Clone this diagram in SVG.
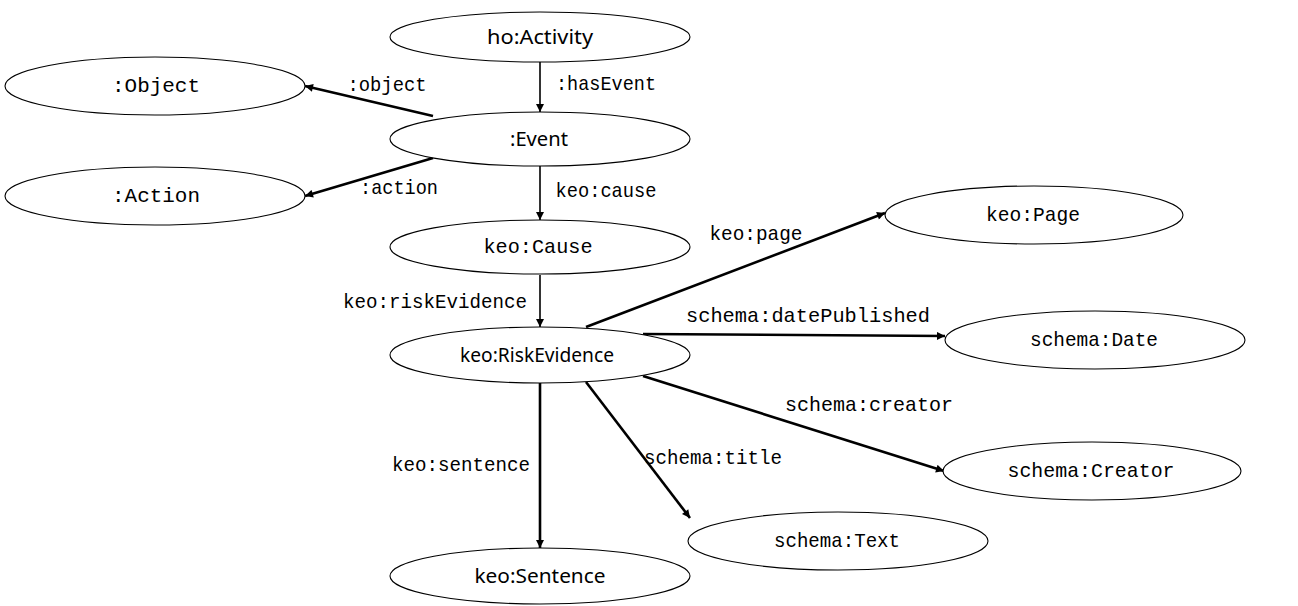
<svg xmlns="http://www.w3.org/2000/svg" width="1298" height="606" viewBox="0 0 1298 606">
<style>
.n ellipse{fill:#fff;stroke:#000;stroke-width:1.1}
.s{font-family:"Noto Sans","Open Sans",sans-serif;font-size:19px;fill:#000;text-anchor:middle;dominant-baseline:central}
.m{font-family:"Liberation Mono","DejaVu Sans Mono",monospace;font-size:21px;fill:#000;text-anchor:middle;dominant-baseline:central}
.e line{stroke:#000;fill:none}
.t1{stroke-width:1.6}
.t2{stroke-width:2.6}
</style>
<defs>
<marker id="a" viewBox="0 0 10 10" refX="10" refY="5" markerWidth="10" markerHeight="8" markerUnits="userSpaceOnUse" orient="auto">
<path d="M0,0 L10,5 L0,10 z" fill="#000"/>
</marker>
</defs>
<rect width="1298" height="606" fill="#fff"/>
<g id="connectors" class="e">
<line class="t1" x1="540" y1="62" x2="540" y2="112" marker-end="url(#a)"/>
<line class="t2" x1="433" y1="116" x2="305" y2="86" marker-end="url(#a)"/>
<line class="t2" x1="433" y1="158" x2="305" y2="196" marker-end="url(#a)"/>
<line class="t1" x1="540" y1="166" x2="540" y2="220" marker-end="url(#a)"/>
<line class="t1" x1="540" y1="275" x2="540" y2="327" marker-end="url(#a)"/>
<line class="t2" x1="586" y1="327" x2="885" y2="213" marker-end="url(#a)"/>
<line class="t2" x1="643" y1="334" x2="945" y2="336" marker-end="url(#a)"/>
<line class="t2" x1="643" y1="376" x2="944" y2="471" marker-end="url(#a)"/>
<line class="t2" x1="586" y1="382" x2="690" y2="518" marker-end="url(#a)"/>
<line class="t2" x1="540" y1="383" x2="540" y2="548" marker-end="url(#a)"/>
</g>
<g id="edge-labels">
<text class="m" x="606" y="84" textLength="100" lengthAdjust="spacingAndGlyphs">:hasEvent</text>
<text class="m" x="387" y="85" textLength="79" lengthAdjust="spacingAndGlyphs">:object</text>
<text class="m" x="399" y="188" textLength="78" lengthAdjust="spacingAndGlyphs">:action</text>
<text class="m" x="606" y="191" textLength="101" lengthAdjust="spacingAndGlyphs">keo:cause</text>
<text class="m" x="435" y="302" textLength="184" lengthAdjust="spacingAndGlyphs">keo:riskEvidence</text>
<text class="m" x="756" y="234" textLength="93" lengthAdjust="spacingAndGlyphs">keo:page</text>
<text class="m" x="808" y="316" textLength="244" lengthAdjust="spacingAndGlyphs">schema:datePublished</text>
<text class="m" x="869" y="405" textLength="168" lengthAdjust="spacingAndGlyphs">schema:creator</text>
<text class="m" x="713" y="458" textLength="138" lengthAdjust="spacingAndGlyphs">schema:title</text>
<text class="m" x="461" y="465" textLength="138" lengthAdjust="spacingAndGlyphs">keo:sentence</text>
</g>
<g id="n-activity" class="n"><ellipse cx="540" cy="37" rx="150" ry="25"/><text class="s" x="540" y="37" textLength="106" lengthAdjust="spacingAndGlyphs">ho:Activity</text></g>
<g id="n-event" class="n"><ellipse cx="540" cy="139" rx="150" ry="27"/><text class="s" x="539" y="139" textLength="58" lengthAdjust="spacingAndGlyphs">:Event</text></g>
<g id="n-object" class="n"><ellipse cx="155" cy="86" rx="150" ry="29"/><text class="m" x="156" y="86" textLength="88" lengthAdjust="spacingAndGlyphs">:Object</text></g>
<g id="n-action" class="n"><ellipse cx="155" cy="196" rx="150" ry="29"/><text class="m" x="156" y="196" textLength="88" lengthAdjust="spacingAndGlyphs">:Action</text></g>
<g id="n-cause" class="n"><ellipse cx="540" cy="247" rx="150" ry="27"/><text class="m" x="538" y="247" textLength="109" lengthAdjust="spacingAndGlyphs">keo:Cause</text></g>
<g id="n-riskevidence" class="n"><ellipse cx="540" cy="355" rx="150" ry="28"/><text class="s" x="537" y="355" textLength="154" lengthAdjust="spacingAndGlyphs">keo:RiskEvidence</text></g>
<g id="n-page" class="n"><ellipse cx="1034" cy="215" rx="149" ry="29"/><text class="m" x="1033" y="215" textLength="94" lengthAdjust="spacingAndGlyphs">keo:Page</text></g>
<g id="n-date" class="n"><ellipse cx="1095" cy="340" rx="150" ry="29"/><text class="m" x="1094" y="340" textLength="128" lengthAdjust="spacingAndGlyphs">schema:Date</text></g>
<g id="n-creator" class="n"><ellipse cx="1092" cy="471" rx="149" ry="29"/><text class="m" x="1091" y="471" textLength="167" lengthAdjust="spacingAndGlyphs">schema:Creator</text></g>
<g id="n-text" class="n"><ellipse cx="838" cy="541" rx="150" ry="29"/><text class="m" x="837" y="541" textLength="126" lengthAdjust="spacingAndGlyphs">schema:Text</text></g>
<g id="n-sentence" class="n"><ellipse cx="540" cy="576" rx="150" ry="28"/><text class="s" x="540" y="576" textLength="131" lengthAdjust="spacingAndGlyphs">keo:Sentence</text></g>
</svg>
